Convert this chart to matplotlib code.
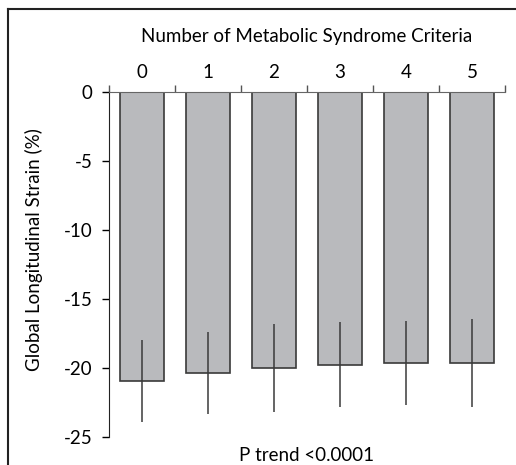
import matplotlib
matplotlib.use('Agg')
import matplotlib.pyplot as plt
from matplotlib.lines import Line2D

plt.rcParams['font.family'] = ['Lato', 'DejaVu Sans']

criteria = ['0', '1', '2', '3', '4', '5']
gls_mean = [-20.95, -20.36, -20.0, -19.75, -19.66, -19.66]
gls_sd = [2.98, 2.97, 3.2, 3.1, 3.05, 3.2]
y_ticks = [0, -5, -10, -15, -20, -25]

fig = plt.figure(figsize=(5.16, 4.65), dpi=100)
ax = fig.add_axes([0.2112, 0.0602, 0.9787 - 0.2112, 0.8022 - 0.0602])

x = list(range(len(criteria)))
ax.bar(x, gls_mean, width=0.667, color='#b9babd', edgecolor='#3a3a3a', linewidth=1.2, zorder=2)
ax.errorbar(x, gls_mean, yerr=gls_sd, fmt='none', ecolor='#3a3a3a', elinewidth=1.1, capsize=0, zorder=3)

ax.set_xlim(-0.5, 5.5)
ax.set_ylim(-25, 0)

ax.xaxis.tick_top()
ax.xaxis.set_label_position('top')
ax.set_xticks(x)
ax.set_xticklabels(criteria, fontsize=13.5)
ax.tick_params(axis='x', which='major', length=0, pad=8)
ax.set_xticks([i - 0.5 for i in range(len(criteria) + 1)], minor=True)
ax.tick_params(axis='x', which='minor', length=5, direction='out', color='#555555', width=1)
ax.set_xlabel('Number of Metabolic Syndrome Criteria', fontsize=13.5, labelpad=16)

ax.set_yticks(y_ticks)
ax.set_yticklabels([str(v) for v in y_ticks], fontsize=13.5)
ax.tick_params(axis='y', length=5, direction='out', width=1, pad=7)
ax.set_ylabel('Global Longitudinal Strain (%)', fontsize=13.5)
ax.yaxis.set_label_coords(-0.167, 0.543)

for side in ['right', 'bottom']:
    ax.spines[side].set_visible(False)
ax.spines['top'].set_color('#666666')
ax.spines['left'].set_color('#222222')

ax.text(0.5, -0.03, 'P trend <0.0001', transform=ax.transAxes,
        ha='center', va='top', fontsize=13.5)

# outer frame (top and left edges only visible)
fig.add_artist(Line2D([8 / 516, 1.0], [1 - 9 / 465, 1 - 9 / 465], color='#222222', lw=1.5))
fig.add_artist(Line2D([8 / 516, 8 / 516], [0.0, 1 - 9 / 465], color='#222222', lw=1.5))

fig.savefig('out.png', dpi=100)
